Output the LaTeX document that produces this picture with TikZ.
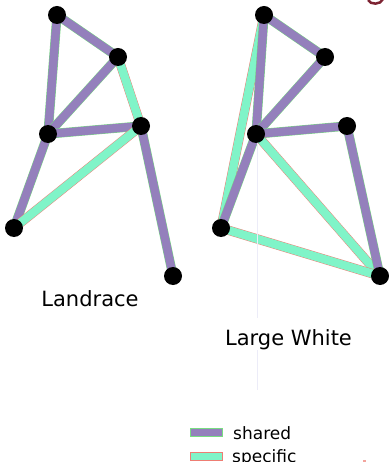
\documentclass[tikz,border=0pt]{standalone}
\usepackage{fontspec}
\setmainfont{DejaVu Sans}
\usetikzlibrary{backgrounds}
\definecolor{sharedfill}{RGB}{148,128,188}
\definecolor{sharedrim}{RGB}{120,220,130}
\definecolor{specfill}{RGB}{128,244,200}
\definecolor{specrim}{RGB}{238,125,115}
\definecolor{guide}{RGB}{236,236,248}
\definecolor{darkred}{RGB}{125,35,50}
\begin{document}
\begin{tikzpicture}[x=1pt,y=-1pt,
  vertex/.style={circle,fill=black,minimum size=18pt,inner sep=0pt},
  shared/.style={draw=sharedrim,line width=0.45pt,double=sharedfill,double distance=8.4pt},
  specific/.style={draw=specrim,line width=0.45pt,double=specfill,double distance=8.4pt},
  title/.style={font=\fontsize{21}{25}\selectfont,anchor=base,inner sep=0pt},
  legtext/.style={font=\fontsize{17}{20}\selectfont,anchor=base west,inner sep=0pt}]
\useasboundingbox (0,0) rectangle (388,462);

% faint guide line behind the right graph
\draw[guide,line width=1pt] (257,142) -- (257,318);
\draw[guide,line width=1pt] (257,350) -- (257,390);

% Landrace network
\node[vertex] (a1) at (57,15) {};
\node[vertex] (b1) at (118,57) {};
\node[vertex] (c1) at (48,134) {};
\node[vertex] (d1) at (141,126) {};
\node[vertex] (e1) at (14,228) {};
\node[vertex] (f1) at (173,276) {};

% Large White network
\node[vertex] (a2) at (264,15) {};
\node[vertex] (b2) at (325,57) {};
\node[vertex] (c2) at (256,134) {};
\node[vertex] (d2) at (347,126) {};
\node[vertex] (e2) at (221,228) {};
\node[vertex] (f2) at (380,276) {};

\begin{scope}[on background layer]
  \draw[shared] (a1.center) -- (b1.center);
  \draw[shared] (a1.center) -- (c1.center);
  \draw[shared] (b1.center) -- (c1.center);
  \draw[specific] (b1.center) -- (d1.center);
  \draw[shared] (c1.center) -- (d1.center);
  \draw[shared] (c1.center) -- (e1.center);
  \draw[specific] (d1.center) -- (e1.center);
  \draw[shared] (d1.center) -- (f1.center);

  \draw[specific] (a2.center) -- (e2.center);
  \draw[shared] (a2.center) -- (b2.center);
  \draw[shared] (a2.center) -- (c2.center);
  \draw[shared] (b2.center) -- (c2.center);
  \draw[shared] (c2.center) -- (d2.center);
  \draw[shared] (c2.center) -- (e2.center);
  \draw[specific] (c2.center) -- (f2.center);
  \draw[shared] (d2.center) -- (f2.center);
  \draw[specific] (e2.center) -- (f2.center);
\end{scope}

% titles
\node[title] (t1) at (90,306) {Landrace};
\node[title] (t2) at (288.5,345) {Large White};

% legend
\node[draw=sharedrim,fill=sharedfill,line width=0.6pt,minimum width=32pt,minimum height=8pt,inner sep=0pt] (k1) at (206,432.5) {};
\node[draw=specrim,fill=specfill,line width=0.6pt,minimum width=32pt,minimum height=8pt,inner sep=0pt] (k2) at (206,456) {};
\node[legtext] (l1) at (233,439.5) {shared};
\node[legtext] (l2) at (232,462.5) {specific};

% stray marks along the edges
\draw[darkred,line width=2.5pt] (368,0) .. controls (370,5) and (381,5) .. (383,-1);
\fill[specrim!70] (363,459.5) rectangle (366,461.5);
\end{tikzpicture}
\end{document}
